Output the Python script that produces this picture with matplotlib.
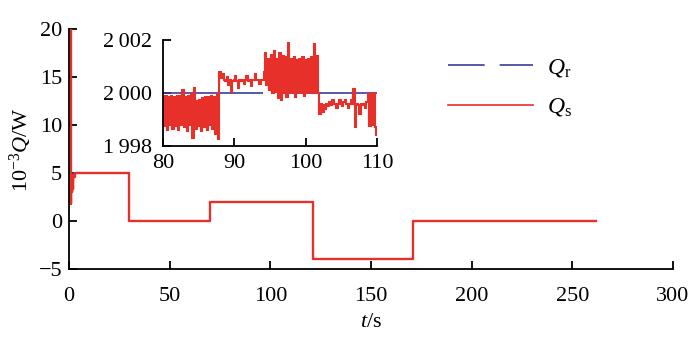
import numpy as np
import matplotlib
matplotlib.use("Agg")
import matplotlib.pyplot as plt
from matplotlib.lines import Line2D

plt.rcParams['font.family'] = ['Liberation Serif', 'DejaVu Serif']
plt.rcParams['mathtext.fontset'] = 'custom'
plt.rcParams['mathtext.rm'] = 'Liberation Serif'
plt.rcParams['mathtext.it'] = 'Liberation Serif:italic'
plt.rcParams['axes.unicode_minus'] = True
# keep every sample of the noisy trace
plt.rcParams['path.simplify'] = False

# reference power levels (kW) and switching times (s)
step_t = [0, 30, 70, 121, 171, 262]
step_q = [5, 0, 2, -3.9, 0, 0]

# measured power: start-up transient before it settles on the first level
start_t = [0.8, 0.8, 1.2, 1.4, 1.6, 1.9, 2.2, 2.6]
start_q = [20, 1.8, 4.4, 3.0, 4.6, 3.4, 4.8, 4.6]

# zoomed window 80-110 s, measured power in W, sampled every 0.2 s
zoom_t0, zoom_dt = 80.0, 0.2
zoom_ref = 2000
zoom_a = [1999.85, 1998.75, 1999.9, 1998.6, 1999.85, 1998.8, 1999.9, 1998.65, 1999.85, 1998.75,
          1999.9, 1998.6, 1999.9, 1998.8, 2000.1, 1998.7, 1999.85, 1998.55, 1999.9, 1998.8,
          1999.95, 1998.3, 2000.2, 1998.65, 1999.7, 1998.75, 1999.75, 1998.55, 1999.8, 1998.7,
          1999.85, 1998.6, 1999.85, 1998.8, 1999.9, 1998.65, 1999.85, 1998.45, 1999.95, 1998.25]
zoom_b = [2000.8, 2000.55, 2000.7, 2000.5, 2000.45, 2000.6, 2000.3, 2000.5, 2000.05, 2000.45,
          2000.5, 2000.65, 2000.45, 2000.2, 2000.5, 2000.45, 2000.5, 2000.35, 2000.5, 2000.65,
          2000.45, 2000.5, 2000.25, 2000.5, 2000.5, 2000.7, 2000.5, 2000.5, 2000.35, 2000.5,
          2000.5, 2000.8]
zoom_c = [2001.5, 2000.3, 2001.3, 2000.1, 2001.45, 2000.0, 2001.6, 2000.05, 2001.3, 1999.8,
          2001.5, 1999.75, 2001.4, 2000.0, 2001.35, 1999.85, 2001.9, 2000.05, 2001.3, 2000.0,
          2001.35, 1999.85, 2001.25, 2000.05, 2001.3, 2000.0, 2001.35, 1999.9, 2001.25, 2000.0,
          2001.3, 2000.05, 2001.35, 2000.0, 2001.85, 2000.0, 2001.4, 2000.0]
zoom_d = [1999.2, 1999.6, 1999.3, 1999.55, 1999.4, 1999.6, 1999.5, 1999.65, 1999.55, 1999.75,
          1999.6, 1999.6, 1999.45, 1999.6, 1999.75, 1999.6, 1999.5, 1999.65, 1999.75, 1999.6,
          1999.45, 1999.6, 1999.75, 1999.6, 2000.15, 1998.7, 1999.6, 1999.55, 1999.2, 1999.6,
          1999.55, 1999.6, 1999.45, 1999.65]
zoom_e = [1999.95, 1998.75, 1999.95, 1998.8, 2000.0, 1998.7, 1998.4]

red = '#e8302a'
blue = '#3c3c9c'
dash = (0, (22, 9))

fig = plt.figure(figsize=(7, 3.43), dpi=100)
ax = fig.add_axes([0.0986, 0.2149, 0.8628, 0.6997])

# Q_r drawn first, Q_s on top of it
ax.step(step_t, step_q, where='post', color=blue, lw=1.2, linestyle=dash)
qs_t = start_t + [3.0] + step_t[1:]
qs_q = start_q + step_q
ax.step(qs_t, qs_q, where='post', color=red, lw=1.7)

ax.set_xlim(0, 300)
ax.set_ylim(-5, 20)
ax.set_xticks(range(0, 301, 50))
ax.set_yticks(range(-5, 21, 5))
ax.set_yticklabels(['\u22125', '0', '5', '10', '15', '20'])
for s in ['top', 'right']:
    ax.spines[s].set_visible(False)
for s in ['left', 'bottom']:
    ax.spines[s].set_linewidth(1.3)
ax.tick_params(axis='both', direction='in', length=6, width=1.3, labelsize=16)
ax.tick_params(axis='x', pad=13)
ax.tick_params(axis='y', pad=5)
ax.set_xlabel('$t$/s', fontsize=16, labelpad=5)
ax.set_ylabel('$10^{-3}Q$/W', fontsize=16, labelpad=3)

# inset with the 80-110 s window
ax_in = fig.add_axes([0.2329, 0.5743, 0.3057, 0.3091])
zoom_q = zoom_a + zoom_b + zoom_c + zoom_d + zoom_e
zoom_t = np.round(zoom_t0 + zoom_dt * np.arange(len(zoom_q)), 1)
ax_in.plot([zoom_t[0], zoom_t[-1]], [zoom_ref, zoom_ref], color=blue, lw=1.2, linestyle=(0, (60, 10)))
ax_in.step(zoom_t, zoom_q, where='mid', color=red, lw=1.5, solid_joinstyle='miter')
ax_in.set_xlim(80, 110)
ax_in.set_ylim(1998, 2002)
ax_in.set_xticks([80, 90, 100, 110])
ax_in.set_yticks([1998, 2000, 2002])
ax_in.set_yticklabels(['1\u2009998', '2\u2009000', '2\u2009002'])
for s in ['top', 'right']:
    ax_in.spines[s].set_visible(False)
for s in ['left', 'bottom']:
    ax_in.spines[s].set_linewidth(1.3)
ax_in.tick_params(axis='both', direction='in', length=6, width=1.3, labelsize=16)
ax_in.tick_params(axis='x', pad=6)
ax_in.tick_params(axis='y', pad=8)
ax_in.patch.set_alpha(0)

handles = [Line2D([], [], color=blue, lw=1.2, linestyle=dash),
           Line2D([], [], color=red, lw=1.2)]
fig.legend(handles, ['$Q_\\mathrm{r}$', '$Q_\\mathrm{s}$'], loc='upper left',
           bbox_to_anchor=(0.61, 0.897), frameon=False, fontsize=17,
           handlelength=3.6, handletextpad=0.6, labelspacing=0.75)

fig.savefig('out.png', dpi=100)
